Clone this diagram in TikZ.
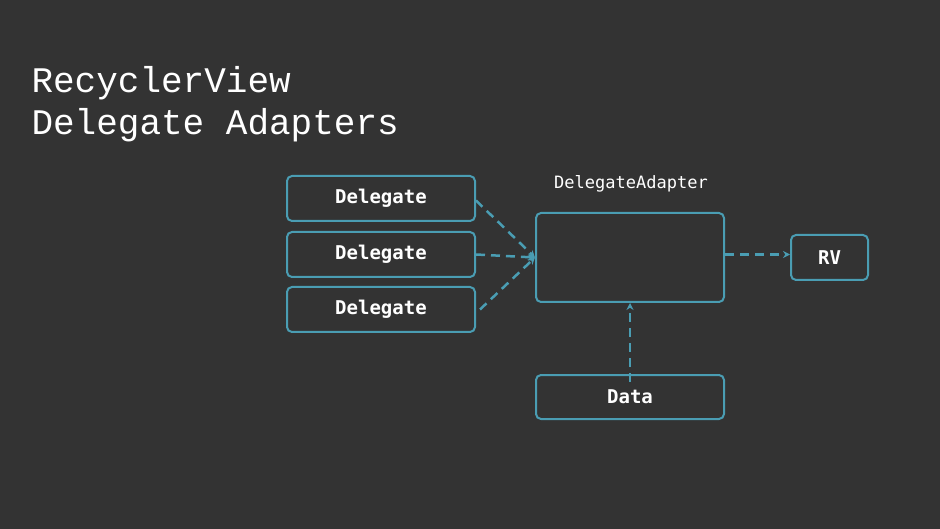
\documentclass[tikz,border=0pt]{standalone}
\usepackage{fontspec}
\newfontfamily\titlefont{Liberation Mono}
\newfontfamily\boxfont{DejaVu Sans Mono}
\usetikzlibrary{arrows.meta}
\definecolor{bg}{HTML}{333333}
\definecolor{teal}{HTML}{4A9DB3}
\begin{document}
\begin{tikzpicture}[x=1pt,y=-1pt,
  box/.style={draw=teal,line width=2pt,rounded corners=5pt,minimum width=188pt,minimum height=45pt,text=white,font=\boxfont\bfseries\fontsize{19}{22}\selectfont,inner sep=0pt},
  conn/.style={draw=teal,line width=2.5pt,dash pattern=on 9pt off 6pt,-{Stealth[length=7pt,width=7pt]}}]
\fill[bg] (0,0) rectangle (940,529);
\useasboundingbox (0,0) rectangle (940,529);
\node[anchor=west,text=white,font=\titlefont\fontsize{36}{42}\selectfont,align=left] (title) at (28,104) {RecyclerView\\Delegate Adapters};
\node[box] (d1) at (381,198.5) {Delegate};
\node[box] (d2) at (381,254.5) {Delegate};
\node[box] (d3) at (381,309.5) {Delegate};
\node[box,minimum height=89pt] (da) at (630,257.5) {};
\node[text=white,font=\boxfont\fontsize{17}{20}\selectfont] (dal) at (631,184) {DelegateAdapter};
\node[box,minimum width=77pt] (rv) at (829.5,257.5) {RV};
\node[box,minimum height=44pt] (data) at (630,397) {Data};
\draw[conn] (d1.east) ++(0,2) -- (da.west);
\draw[conn] (d2.east) -- (da.west);
\draw[conn] ([xshift=4pt]d3.east) -- (da.west);
\draw[conn] ([yshift=3pt]da.east) -- ([yshift=3pt]rv.west);
\draw[conn] ([yshift=-8pt]data.north) -- (da.south);
\end{tikzpicture}
\end{document}
